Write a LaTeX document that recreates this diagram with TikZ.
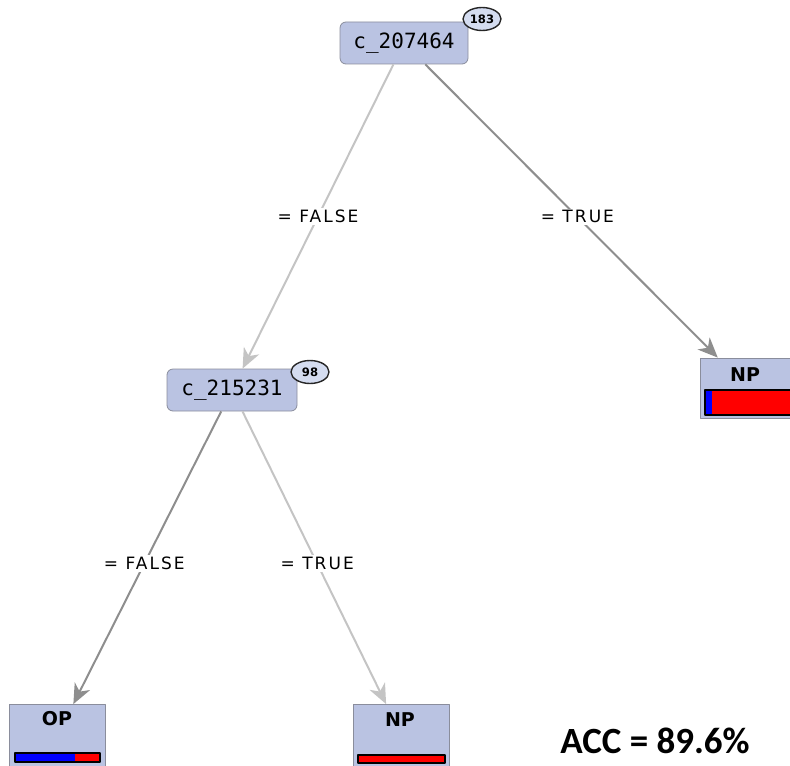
\documentclass[tikz,border=0pt]{standalone}
\usepackage{fontspec}
\setmainfont{DejaVu Sans}
\newfontfamily\codefont{DejaVu Sans Mono}
\newfontfamily\edgefont[LetterSpace=12]{DejaVu Sans}
\newfontfamily\accfont{Carlito}
\usetikzlibrary{arrows.meta,shapes.geometric}
\definecolor{boxfill}{HTML}{BAC3E2}
\definecolor{boxline}{HTML}{8A8D9C}
\definecolor{lightedge}{HTML}{C4C4C4}
\definecolor{darkedge}{HTML}{8E8E8E}
\definecolor{badgefill}{HTML}{D4DCF0}
\definecolor{barblue}{HTML}{0000FF}
\definecolor{barred}{HTML}{FF0000}
\begin{document}
\begin{tikzpicture}[x=0.5pt, y=-0.5pt, line join=round, >={Stealth[length=10pt,width=8.5pt,inset=3pt]},
	split/.style={draw=boxline, fill=boxfill, rounded corners=3pt, minimum width=64pt, minimum height=21pt, inner sep=0pt, font=\codefont\fontsize{10.5}{12}\selectfont},
	leaf/.style={draw=boxline, fill=boxfill, minimum width=48pt, minimum height=30pt, inner sep=0pt},
	leaflabel/.style={font=\bfseries\fontsize{9.5}{11}\selectfont},
	badge/.style={ellipse, draw=black!85, line width=0.7pt, fill=badgefill, minimum width=19pt, minimum height=11.5pt, inner sep=0.5pt, font=\bfseries\fontsize{5.8}{7}\selectfont},
	cond/.style={fill=white, inner sep=1pt, font=\edgefont\fontsize{8.5}{10}\selectfont},
	light/.style={draw=lightedge, line width=1pt, ->},
	dark/.style={draw=darkedge, line width=1pt, ->}]
	\useasboundingbox (0,0) rectangle (790,765);
	\clip (0,0) rectangle (790,765);
	
	% split nodes
	\node[split] (c207) at (404,43) {c\_207464};
	\node[badge] (b207) at (482,19) {183};
	\node[split, minimum width=65pt] (c215) at (232,390) {c\_215231};
	\node[badge] (b215) at (310,372) {98};
	
	% leaves
	\node[leaf] (np1) at (748,388) {};
	\node[leaf, minimum height=31pt] (op) at (57.5,735.5) {};
	\node[leaf, minimum height=31pt] (np2) at (401.5,735.5) {};
	\node[leaflabel] (np1t) at (745,375) {NP};
	\node[leaflabel] (opt) at (57,719) {OP};
	\node[leaflabel] (np2t) at (400,720) {NP};
	
	\fill[barred] (705,390) rectangle (800,415);
	\fill[barblue] (705,390) rectangle (712,415);
	\draw[black, line width=0.8pt] (705,390) rectangle (800,415);
	
	\fill[barred] (15,753) rectangle (100,762);
	\fill[barblue] (15,753) rectangle (75,762);
	\draw[black, line width=0.8pt] (15,753) rectangle (100,762);
	
	\fill[barred] (358,755) rectangle (445,763);
	\draw[black, line width=0.8pt] (358,755) rectangle (445,763);
	
	% edges
	\draw[light] (c207) -- node[cond] {= FALSE} (c215);
	\draw[dark] (c207) -- node[cond, pos=0.52] {= TRUE} (np1);
	\draw[dark] (c215) -- node[cond, pos=0.52] {= FALSE} (op);
	\draw[light] (c215) -- node[cond, pos=0.52] {= TRUE} (np2);
	
	\node[font=\accfont\bfseries\fontsize{18.5}{20}\selectfont] (acc) at (655,741) {ACC = 89.6\%};
\end{tikzpicture}
\end{document}
